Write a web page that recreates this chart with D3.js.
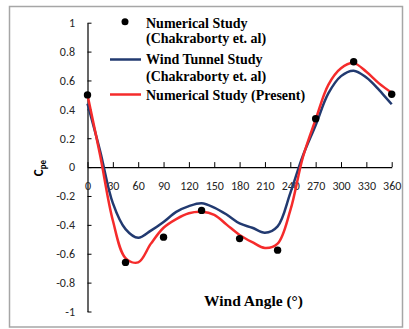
<!DOCTYPE html>
<html>
<head>
<meta charset="utf-8">
<script src="https://cdn.jsdelivr.net/npm/d3@7"></script>
<style>
    body { margin: 0; background: #fff; }
    svg { display: block; }
</style>
</head>
<body>
<svg width="409" height="329"></svg>
<script>
(function() {
    "use strict";

    // smooth curves, every 15 degrees
    var angles = [0, 15, 30, 45, 60, 75, 90, 105, 120, 135, 150, 165, 180,
                  195, 210, 225, 240, 255, 270, 285, 300, 315, 330, 345, 360];
    var windTunnel = [0.44, 0.11, -0.25, -0.43, -0.49, -0.44, -0.38, -0.31, -0.27, -0.25, -0.28, -0.33, -0.39,
                      -0.42, -0.455, -0.41, -0.18, 0.08, 0.29, 0.51, 0.63, 0.668, 0.62, 0.535, 0.435];
    var present = [0.50, 0.08, -0.37, -0.63, -0.66, -0.53, -0.42, -0.36, -0.32, -0.31, -0.33, -0.40, -0.47,
                   -0.52, -0.56, -0.53, -0.30, 0.07, 0.33, 0.57, 0.685, 0.72, 0.66, 0.58, 0.515];

    // dots
    var numAngles = [0, 45, 90, 135, 180, 225, 270, 315, 360];
    var numChakraborty = [0.50, -0.66, -0.485, -0.30, -0.495, -0.575, 0.335, 0.73, 0.505];

    var xTicks = [0, 30, 60, 90, 120, 150, 180, 210, 240, 270, 300, 330, 360];
    var yTicks = [-1, -0.8, -0.6, -0.4, -0.2, 0, 0.2, 0.4, 0.6, 0.8, 1];
    var yTickLabels = ["-1", "-0.8", "-0.6", "-0.4", "-0.2", "0", "0.2", "0.4", "0.6", "0.8", "1"];

    var legendLabels = [
        ["Numerical Study", "(Chakraborty et. al)"],
        ["Wind Tunnel Study", "(Chakraborty et. al)"],
        ["Numerical Study (Present)"]
    ];

    var navy = "#223a70";
    var red = "#f52b2b";
    var serif = "'Liberation Serif', 'Times New Roman', serif";
    var sans = "Carlito, Calibri, 'Liberation Sans', Arial, sans-serif";

    var svg = d3.select("svg");

    svg.append("rect")
        .attr("x", 9.5).attr("y", 6.5)
        .attr("width", 393).attr("height", 320.5)
        .attr("fill", "none")
        .attr("stroke", "#a6a6a6")
        .attr("stroke-width", 1.5);

    var x = d3.scaleLinear().domain([0, 360]).range([87.5, 391.7]);
    var y = d3.scaleLinear().domain([-1, 1]).range([311.5, 22.7]);

    // y axis, ticks inside
    var yAxis = svg.append("g")
        .attr("transform", "translate(" + x(0) + ",0)")
        .call(d3.axisLeft(y)
            .tickValues(yTicks)
            .tickFormat(function(d, i) { return yTickLabels[i]; })
            .tickSizeInner(-4)
            .tickSizeOuter(0)
            .tickPadding(12.5));

    // x axis crossing at zero, ticks pointing up
    var xAxis = svg.append("g")
        .attr("transform", "translate(0," + y(0) + ")")
        .call(d3.axisBottom(x)
            .tickValues(xTicks)
            .tickFormat(function(d) { return d; })
            .tickSizeInner(-5)
            .tickSizeOuter(0)
            .tickPadding(14));

    [xAxis, yAxis].forEach(function(ax) {
        ax.select(".domain").attr("stroke", "#000").attr("stroke-width", 1.2);
        ax.selectAll(".tick line").attr("stroke", "#000").attr("stroke-width", 1);
        ax.selectAll(".tick text")
            .attr("fill", "#262626")
            .style("font-family", sans)
            .style("font-size", "12px");
    });

    var line = d3.line()
        .x(function(d) { return x(d[0]); })
        .y(function(d) { return y(d[1]); })
        .curve(d3.curveCatmullRom.alpha(0.5));

    svg.append("path")
        .datum(d3.zip(angles, windTunnel))
        .attr("d", line)
        .attr("fill", "none")
        .attr("stroke", navy)
        .attr("stroke-width", 2.5);

    svg.append("path")
        .datum(d3.zip(angles, present))
        .attr("d", line)
        .attr("fill", "none")
        .attr("stroke", red)
        .attr("stroke-width", 2.5);

    svg.selectAll("circle.pt")
        .data(d3.zip(numAngles, numChakraborty))
        .enter().append("circle")
        .attr("class", "pt")
        .attr("cx", function(d) { return x(d[0]); })
        .attr("cy", function(d) { return y(d[1]); })
        .attr("r", 3.7)
        .attr("fill", "#000");

    // axis titles
    svg.append("text")
        .attr("x", 253.5).attr("y", 305.5)
        .attr("text-anchor", "middle")
        .style("font-family", serif)
        .style("font-weight", "bold")
        .style("font-size", "15.5px")
        .text("Wind Angle (\u00b0)");

    var yTitle = svg.append("text")
        .attr("transform", "translate(43,168) rotate(-90)")
        .attr("text-anchor", "middle")
        .style("font-family", sans)
        .style("font-weight", "bold")
        .style("font-size", "13px");
    yTitle.append("tspan").text("C");
    yTitle.append("tspan").attr("dy", 3).style("font-size", "9px").text("pe");

    // legend
    var lg = svg.append("g").style("font-family", serif)
        .style("font-weight", "bold").style("font-size", "14px");
    var baselines = [[27.5, 43.3], [64, 80.7], [99.6]];
    legendLabels.forEach(function(lines, i) {
        lines.forEach(function(t, j) {
            lg.append("text").attr("x", 146).attr("y", baselines[i][j]).text(t);
        });
    });
    lg.append("circle").attr("cx", 125).attr("cy", 21.7).attr("r", 3.5).attr("fill", "#000");
    lg.append("line").attr("x1", 110).attr("x2", 141).attr("y1", 59.5).attr("y2", 59.5)
        .attr("stroke", navy).attr("stroke-width", 2.5);
    lg.append("line").attr("x1", 110).attr("x2", 141).attr("y1", 94.5).attr("y2", 94.5)
        .attr("stroke", red).attr("stroke-width", 2.5);
})();
</script>
</body>
</html>
